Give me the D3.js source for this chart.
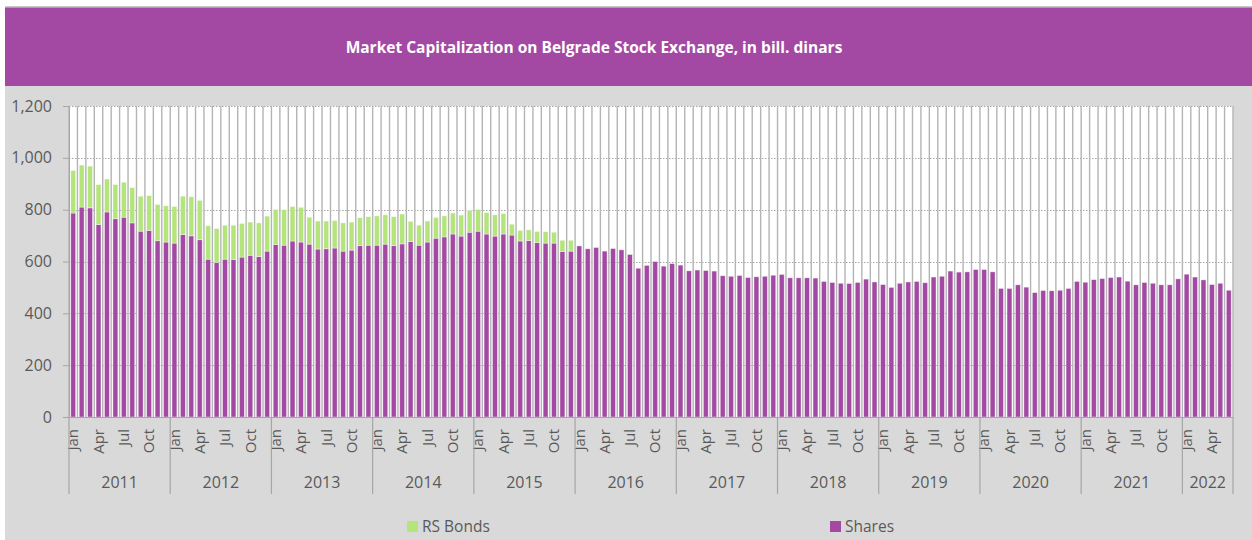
<!DOCTYPE html>
<html>
<head>
<meta charset="utf-8">
<script src="https://cdn.jsdelivr.net/npm/d3@7"></script>
<style>
body { margin: 0; background: #fff; }
text { font-family: "Open Sans", sans-serif; }
</style>
</head>
<body>
<script>
var years = ['2011', '2012', '2013', '2014', '2015', '2016', '2017', '2018', '2019', '2020', '2021', '2022'];
var monthNames = ['Jan', 'Feb', 'Mar', 'Apr', 'May', 'Jun', 'Jul', 'Aug', 'Sep', 'Oct', 'Nov', 'Dec'];
var shownMonths = ['Jan', 'Apr', 'Jul', 'Oct'];

// bill. dinars, Jan 2011 - Jun 2022
var shares = [
    787, 810, 807, 743, 791, 765, 771, 749, 717, 720, 680, 675,
    671, 704, 699, 684, 609, 597, 609, 608, 617, 624, 619, 640,
    666, 663, 679, 675, 667, 648, 649, 652, 640, 644, 661, 663,
    663, 667, 661, 668, 677, 663, 675, 690, 695, 706, 698, 713,
    717, 706, 698, 706, 702, 679, 681, 673, 671, 671, 639, 640,
    660, 649, 654, 640, 650, 645, 627, 574, 585, 600, 582, 592,
    586, 564, 567, 565, 563, 545, 543, 546, 538, 541, 543, 547,
    550, 537, 537, 537, 536, 523, 519, 516, 515, 519, 532, 521,
    511, 500, 516, 521, 523, 518, 540, 543, 563, 559, 560, 569,
    569, 560, 496, 496, 510, 501, 480, 488, 487, 489, 496, 523,
    520, 530, 534, 538, 540, 524, 510, 519, 516, 510, 510, 533,
    551, 540, 529, 511, 516, 489
];
// RS bonds, only listed until Dec 2015
var bonds = [
    164, 162, 161, 154, 127, 132, 135, 136, 135, 134, 140, 140,
    141, 148, 151, 152, 129, 130, 131, 132, 130, 128, 130, 135,
    135, 137, 133, 134, 104, 108, 107, 106, 109, 108, 108, 110,
    113, 113, 112, 115, 78, 77, 81, 80, 81, 81, 81, 83,
    84, 83, 82, 79, 42, 41, 41, 43, 44, 42, 43, 42
];
var yTicks = [0, 200, 400, 600, 800, 1000, 1200];

var purple = '#a349a4',
    green = '#b3e57a',
    textColor = '#595959';

var rows = shares.map(function(s, i) {
    return {
        year: years[Math.floor(i / 12)],
        month: monthNames[i % 12],
        shares: s,
        bonds: bonds[i] || 0
    };
});

var svg = d3.select('body').append('svg')
    .attr('width', 1252).attr('height', 540);

svg.append('rect').attr('x', 5).attr('y', 6).attr('width', 1247).attr('height', 534)
    .style('fill', '#d9d9d9');
svg.append('line').attr('x1', 5).attr('x2', 1252).attr('y1', 6.5).attr('y2', 6.5)
    .style('stroke', '#c6c6c6');
svg.append('rect').attr('x', 5).attr('y', 7.5).attr('width', 1247).attr('height', 78.5)
    .style('fill', purple);

svg.append('text')
    .attr('x', 594).attr('y', 53)
    .attr('text-anchor', 'middle')
    .attr('fill', 'white')
    .style('font-weight', 'bold')
    .style('font-size', '15.5px')
    .text('Market Capitalization on Belgrade Stock Exchange, in bill. dinars');

var plotLeft = 69, plotRight = 1233, plotTop = 106, plotBottom = 417;

var x = d3.scaleBand()
    .domain(d3.range(rows.length))
    .range([plotLeft, plotRight])
    .paddingInner(0.42)
    .paddingOuter(0.21);

var y = d3.scaleLinear().domain([0, 1200]).range([plotBottom, plotTop]);

svg.append('rect').attr('x', plotLeft).attr('y', plotTop)
    .attr('width', plotRight - plotLeft).attr('height', plotBottom - plotTop)
    .style('fill', 'white');

// dotted horizontal grid
svg.append('g').selectAll('line')
    .data(yTicks.slice(1))
    .enter().append('line')
    .attr('x1', plotLeft).attr('x2', plotRight)
    .attr('y1', function(d) { return Math.round(y(d)) + 0.5; })
    .attr('y2', function(d) { return Math.round(y(d)) + 0.5; })
    .style('stroke', '#a6a6a6')
    .style('stroke-dasharray', '1.5,1.5');

// category boundaries
function edge(i) {
    return x(0) + x.bandwidth() / 2 - x.step() / 2 + i * x.step();
}
var edges = d3.range(rows.length + 1);
svg.append('g').selectAll('line')
    .data(edges)
    .enter().append('line')
    .attr('x1', function(i) { return edge(i); })
    .attr('x2', function(i) { return edge(i); })
    .attr('y1', plotTop).attr('y2', plotBottom)
    .style('stroke', '#b4b4b4')
    .style('stroke-width', 1.4);

var stack = d3.stack().keys(['shares', 'bonds'])(rows);
var colors = { shares: purple, bonds: green };

svg.append('g').selectAll('g')
    .data(stack)
    .enter().append('g')
    .style('fill', function(d) { return colors[d.key]; })
    .selectAll('rect')
    .data(function(d) { return d.filter(function(p) { return p[1] > p[0]; }); })
    .enter().append('rect')
    .attr('x', function(d) { return x(rows.indexOf(d.data)); })
    .attr('width', x.bandwidth())
    .attr('y', function(d) { return y(d[1]); })
    .attr('height', function(d) { return y(d[0]) - y(d[1]); })
    .style('stroke', 'rgba(255,255,255,0.55)')
    .style('stroke-width', 0.7);

// y axis
var yAxis = svg.append('g')
    .attr('transform', 'translate(' + plotLeft + ',0)')
    .call(d3.axisLeft(y).tickValues(yTicks).tickSize(6).tickPadding(11).tickFormat(d3.format(',')));
yAxis.select('.domain').style('stroke', '#a6a6a6');
yAxis.selectAll('.tick line').style('stroke', '#a6a6a6');
yAxis.selectAll('text')
    .style('font-size', '16px')
    .style('font-family', '"Open Sans", sans-serif')
    .attr('fill', textColor);

svg.append('line')
    .attr('x1', plotLeft - 6).attr('x2', plotRight)
    .attr('y1', plotBottom + 0.5).attr('y2', plotBottom + 0.5)
    .style('stroke', '#a6a6a6');

// month labels
svg.append('g').selectAll('text')
    .data(rows.filter(function(r) { return shownMonths.indexOf(r.month) >= 0; }))
    .enter().append('text')
    .attr('transform', function(d) {
        var cx = x(rows.indexOf(d)) + x.bandwidth() / 2;
        return 'translate(' + cx + ',429) rotate(-90)';
    })
    .attr('dy', '0.35em')
    .attr('text-anchor', 'end')
    .attr('fill', textColor)
    .style('font-size', '15px')
    .text(function(d) { return d.month; });

// year groups
var yearStarts = years.map(function(yr) {
    var first = rows.findIndex(function(r) { return r.year == yr; });
    var count = rows.filter(function(r) { return r.year == yr; }).length;
    return { year: yr, first: first, last: first + count };
});

svg.append('g').selectAll('line')
    .data(yearStarts.map(function(d) { return d.first; }).concat([rows.length]))
    .enter().append('line')
    .attr('x1', function(i) { return edge(i); })
    .attr('x2', function(i) { return edge(i); })
    .attr('y1', plotBottom).attr('y2', 494)
    .style('stroke', '#a6a6a6')
    .style('stroke-width', 1.2);

svg.append('g').selectAll('text')
    .data(yearStarts)
    .enter().append('text')
    .attr('x', function(d) { return (edge(d.first) + edge(d.last)) / 2; })
    .attr('y', 488)
    .attr('text-anchor', 'middle')
    .attr('fill', textColor)
    .style('font-size', '16px')
    .text(function(d) { return d.year; });

// legend
var legend = [
    { name: 'RS Bonds', color: green, x: 407 },
    { name: 'Shares', color: purple, x: 830 }
];
var lg = svg.append('g').selectAll('g')
    .data(legend)
    .enter().append('g')
    .attr('transform', function(d) { return 'translate(' + d.x + ',521)'; });
lg.append('rect').attr('width', 11).attr('height', 11)
    .style('fill', function(d) { return d.color; });
lg.append('text')
    .attr('x', 15).attr('y', 11)
    .attr('fill', textColor)
    .style('font-size', '15.5px')
    .text(function(d) { return d.name; });
</script>
</body>
</html>
